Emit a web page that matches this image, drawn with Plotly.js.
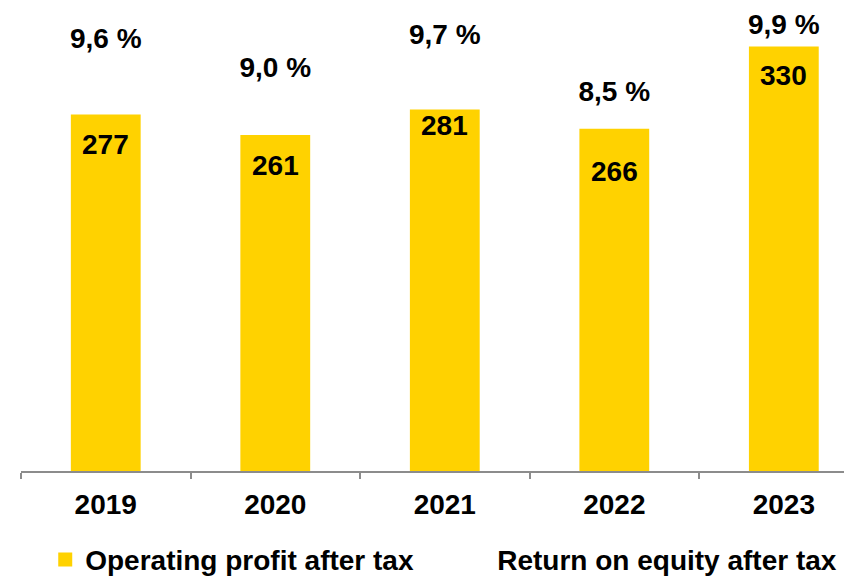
<!DOCTYPE html>
<html><head><meta charset="utf-8">
<script src="https://cdn.plot.ly/plotly-3.0.1.min.js"></script>
<style>html,body{margin:0;padding:0;overflow:hidden;background:#fff}</style>
</head><body><div id="chart" style="width:844px;height:576px"></div>
<script>
// ---- data ----
const years = ['2019', '2020', '2021', '2022', '2023'];
const operatingProfit = [277, 261, 281, 266, 330];
const profitLabels = ['277', '261', '281', '266', '330'];
const returnOnEquity = [9.6, 9.0, 9.7, 8.5, 9.9];
const roeLabels = ['9,6 %', '9,0 %', '9,7 %', '8,5 %', '9,9 %'];
const seriesNames = ['Operating profit after tax', 'Return on equity after tax'];

// ---- styling ----
function font() {
  return {family: 'Liberation Sans, Arial, sans-serif', size: 28, color: '#000000', weight: 'bold'};
}
const YELLOW = '#FFD200';
const AXIS_GREY = '#8c8c8c';
const labelDrop = [29, 29, 15, 42, 28]; // visual offset of value labels below bar tops (px)

const traces = [
  {
    type: 'bar', name: seriesNames[0], x: years, y: operatingProfit,
    marker: {color: YELLOW, line: {color: YELLOW, width: 2}}, width: 0.40, hoverinfo: 'skip'
  },
  {
    type: 'scatter', name: seriesNames[1], x: years, y: returnOnEquity, yaxis: 'y2',
    mode: 'lines+text', text: roeLabels, textposition: 'middle center', textfont: font(),
    line: {color: 'rgba(0,0,0,0)', width: 0}, hoverinfo: 'skip', cliponaxis: false
  }
];

const annotations = years.map((yr, i) => ({
  x: i, y: operatingProfit[i], xref: 'x', yref: 'y',
  text: profitLabels[i], showarrow: false, xanchor: 'center', yanchor: 'middle',
  yshift: -labelDrop[i], font: font()
}));

const layout = {
  width: 844, height: 576,
  margin: {l: 21, r: 0, t: 10, b: 105},
  paper_bgcolor: '#ffffff', plot_bgcolor: '#ffffff',
  showlegend: true,
  xaxis: {
    type: 'category', range: [-0.5, 4.355],
    showline: true, linecolor: AXIS_GREY, linewidth: 2,
    ticks: 'outside', tickson: 'boundaries', ticklen: 6, tickwidth: 2, tickcolor: AXIS_GREY,
    ticklabelstandoff: 7,
    tickfont: font(), showgrid: false, zeroline: false, fixedrange: true
  },
  yaxis: {range: [0, 359.3], visible: false, fixedrange: true},
  yaxis2: {range: [0.558, 10.263], overlaying: 'y', visible: false, fixedrange: true},
  legend: {
    orientation: 'h', xref: 'container', yref: 'container',
    x: 0.0536, y: 0.028, xanchor: 'left', yanchor: 'middle',
    font: font(), entrywidth: 367, entrywidthmode: 'pixels', traceorder: 'normal'
  },
  annotations: annotations
};

Plotly.newPlot('chart', traces, layout, {displayModeBar: false});
</script>
</body></html>
